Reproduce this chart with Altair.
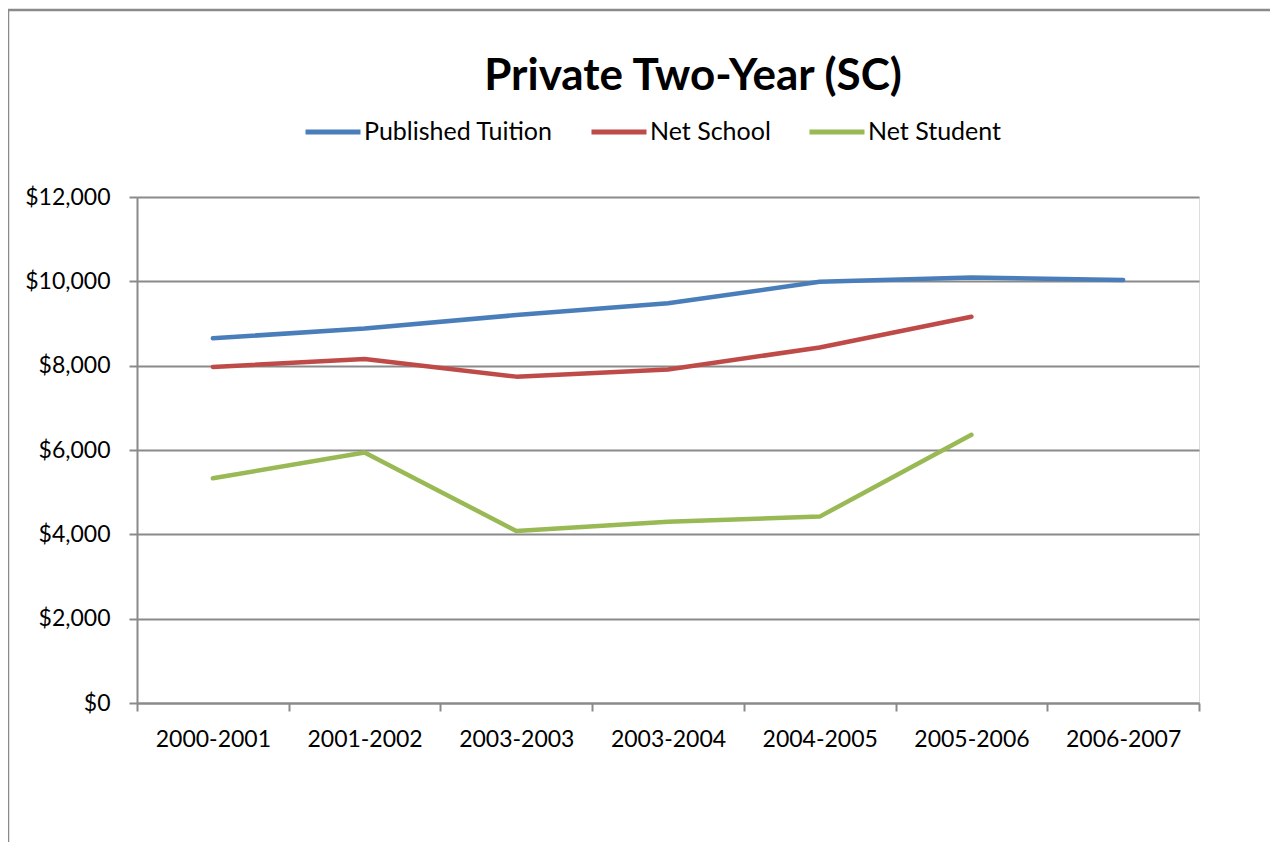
import altair as alt
import pandas as pd

years = ["2000-2001", "2001-2002", "2003-2003", "2003-2004", "2004-2005", "2005-2006", "2006-2007"]
series_names = ["Published Tuition", "Net School", "Net Student"]
published_tuition = [8650, 8880, 9200, 9480, 9990, 10090, 10030]
net_school = [7970, 8160, 7740, 7910, 8430, 9160]
net_student = [5330, 5940, 4080, 4300, 4420, 6360]
colors = ["#4A7EBB", "#BE4B48", "#98B954"]

rows = []
for name, vals in zip(series_names, [published_tuition, net_school, net_student]):
    for yr, v in zip(years, vals):
        rows.append({"Year": yr, "Series": name, "Value": v})
df = pd.DataFrame(rows)

FONT = "Lato"
GRAY = "#8A8A8A"

lines = alt.Chart(df).mark_line(strokeWidth=4.5, strokeCap="round", strokeJoin="round").encode(
    x=alt.X("Year:O", sort=years, bandPosition=0.5,
            scale=alt.Scale(type="band", paddingInner=0, paddingOuter=0),
            axis=alt.Axis(title=None, tickBand="extent", labelAngle=0, grid=False,
                          labelFontSize=23, labelFont=FONT, labelColor="black",
                          labelPadding=17, tickSize=8, tickColor=GRAY, tickWidth=2,
                          domainColor=GRAY, domainWidth=2)),
    y=alt.Y("Value:Q", scale=alt.Scale(domain=[0, 12000]),
            axis=alt.Axis(title=None, values=[0, 2000, 4000, 6000, 8000, 10000, 12000],
                          format="$,d", labelFontSize=23, labelFont=FONT, labelColor="black",
                          labelPadding=19, tickSize=8, tickColor=GRAY, tickWidth=2,
                          domainColor=GRAY, domainWidth=2,
                          grid=True, gridColor=GRAY, gridWidth=2)),
    color=alt.Color("Series:N", sort=series_names,
                    scale=alt.Scale(domain=series_names, range=colors),
                    legend=alt.Legend(title=None, orient="none", direction="horizontal",
                                      legendX=166, legendY=-95,
                                      symbolType="stroke", symbolSize=3025, symbolStrokeWidth=5,
                                      labelFontSize=25, labelFont=FONT, labelColor="black",
                                      labelLimit=0, labelOffset=1, columnPadding=28, padding=0)),
)

frame = alt.Chart(alt.Data(values=[{}])).mark_rect(fill=None, stroke=GRAY, strokeWidth=2.5).encode(
    x=alt.value(-129), x2=alt.value(1300), y=alt.value(-187), y2=alt.value(900)
)

chart = alt.layer(frame, lines).properties(
    width=1062, height=506,
    title=alt.TitleParams("Private Two-Year (SC)", font=FONT, fontSize=44, fontWeight="bold",
                          color="black", anchor="middle", frame="group", offset=0, dx=25, dy=90),
    autosize=alt.AutoSizeParams(type="none"),
    padding={"left": 129, "top": 189, "right": 71, "bottom": 139},
).configure_view(stroke=None).configure(background="white")

chart.save("out.html", embed_options={"renderer": "svg", "actions": False})
